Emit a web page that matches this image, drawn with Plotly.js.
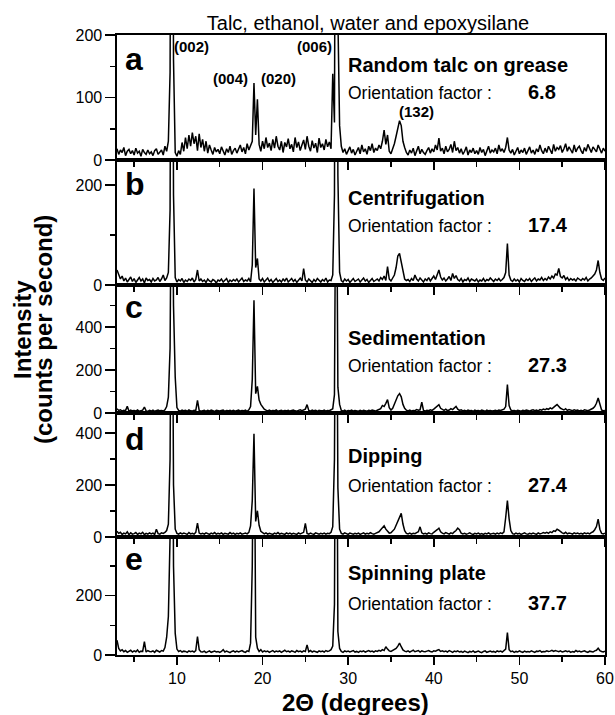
<!DOCTYPE html>
<html>
<head>
<meta charset="utf-8">
<script src="https://cdn.plot.ly/plotly-3.0.1.min.js"></script>
<style>html,body{margin:0;padding:0;background:#fff}#chart{width:615px;height:715px}</style>
</head>
<body>
<div id="chart"></div>
<script>
// 2-theta sampling of every pattern (degrees)
const twoThetaStart = 3.0;
const twoThetaStep = 0.2;

// Intensities (counts per second), one value every 0.2 degree from 3.0 to 60.0
const intensityA = [
 18, 9, 16, 12, 20, 7, 14, 17, 10, 15,
 8, 19, 11, 14, 6, 17, 12, 9, 16, 10,
 13, 7, 15, 18, 9, 12, 16, 8, 22, 14,
 30, 140, 950, 160, 12, 6, 15, 9, 28, 14,
 36, 18, 40, 22, 44, 26, 38, 15, 42, 20,
 33, 14, 30, 11, 24, 16, 9, 20, 13, 17,
 10, 21, 14, 8, 18, 12, 22, 9, 15, 19,
 11, 17, 24, 13, 20, 10, 26, 16, 22, 30,
 123, 40, 97, 25, 14, 30, 18, 36, 20, 27,
 15, 33, 19, 38, 22, 16, 30, 12, 28, 21,
 34, 18, 25, 13, 36, 20, 29, 15, 24, 32,
 17, 38, 22, 14, 31, 19, 27, 12, 35, 20,
 26, 16, 33, 21, 29, 18, 138, 60, 950, 230,
 55, 22, 12, 18, 9, 15, 21, 11, 17, 8,
 14, 20, 10, 24, 13, 18, 9, 22, 15, 26,
 12, 19, 15, 24, 18, 30, 48, 25, 40, 14,
 10, 18, 26, 38, 52, 63, 55, 30, 20, 12,
 8, 16, 11, 19, 7, 14, 22, 10, 17, 12,
 9, 15, 20, 11, 18, 13, 24, 16, 35, 14,
 19, 10, 22, 13, 17, 25, 12, 30, 15, 20,
 11, 18, 9, 14, 21, 8, 16, 12, 19, 10,
 15, 9, 20, 12, 17, 7, 14, 22, 11, 16,
 13, 19, 10, 24, 14, 18, 12, 20, 36, 16,
 11, 17, 8, 14, 20, 10, 16, 12, 19, 9,
 14, 21, 11, 16, 9, 18, 13, 24, 15, 10,
 19, 12, 22, 15, 10, 25, 14, 20, 17, 23,
 12, 18, 26, 14, 21, 16, 11, 24, 13, 19,
 22, 15, 10, 20, 14, 25, 17, 12, 21, 16,
 13, 24, 18, 11, 19, 14
];
const intensityB = [
 30, 22, 12, 18, 8, 14, 6, 11, 16, 7,
 13, 5, 10, 15, 8, 12, 4, 14, 9, 11,
 6, 13, 8, 10, 15, 7, 12, 20, 9, 14,
 25, 150, 1200, 180, 15, 6, 11, 8, 13, 5,
 10, 7, 12, 9, 14, 6, 11, 30, 8, 12,
 7, 10, 5, 12, 8, 6, 11, 9, 4, 10,
 8, 12, 6, 9, 13, 5, 10, 7, 11, 8,
 12, 6, 9, 14, 7, 10, 8, 13, 6, 40,
 193, 35, 53, 12, 8, 13, 6, 10, 14, 7,
 11, 5, 9, 13, 7, 10, 6, 12, 8, 14,
 6, 10, 13, 7, 11, 5, 9, 14, 8, 33,
 10, 6, 12, 8, 5, 11, 7, 13, 9, 6,
 11, 8, 14, 6, 10, 9, 20, 180, 1300, 220,
 25, 9, 6, 12, 8, 11, 5, 10, 13, 7,
 9, 12, 6, 10, 14, 8, 11, 5, 9, 13,
 7, 10, 12, 8, 15, 11, 18, 9, 37, 12,
 8, 14, 20, 35, 58, 63, 45, 22, 12, 9,
 11, 7, 13, 9, 20, 12, 8, 14, 10, 6,
 12, 9, 15, 8, 13, 18, 11, 22, 30, 16,
 10, 14, 8, 12, 17, 9, 23, 13, 19, 11,
 8, 13, 6, 11, 9, 14, 7, 12, 10, 8,
 12, 6, 10, 8, 13, 7, 11, 9, 14, 10,
 7, 12, 9, 13, 8, 11, 15, 25, 83, 20,
 10, 7, 12, 8, 11, 6, 13, 9, 7, 12,
 9, 13, 7, 11, 14, 8, 12, 10, 15, 9,
 13, 10, 16, 12, 18, 14, 22, 20, 33, 17,
 14, 19, 11, 15, 9, 13, 10, 12, 8, 14,
 11, 9, 13, 10, 15, 8, 12, 14, 18, 22,
 30, 49, 25, 12, 9, 14
];
const intensityC = [
 20, 12, 15, 9, 13, 11, 31, 8, 13, 10,
 12, 9, 14, 8, 11, 13, 28, 10, 7, 12,
 9, 13, 8, 11, 14, 10, 12, 9, 15, 30,
 74, 300, 1500, 500, 166, 25, 12, 9, 14, 10,
 12, 8, 14, 10, 9, 13, 11, 59, 12, 8,
 10, 13, 8, 12, 9, 14, 11, 7, 13, 10,
 9, 12, 14, 8, 11, 10, 13, 9, 12, 8,
 11, 14, 9, 12, 10, 13, 8, 15, 30, 155,
 524, 90, 124, 60, 40, 28, 18, 13, 10, 14,
 9, 12, 10, 14, 8, 11, 13, 9, 12, 10,
 13, 9, 11, 14, 10, 8, 12, 15, 11, 13,
 18, 39, 12, 9, 14, 10, 12, 8, 13, 11,
 10, 14, 9, 12, 11, 15, 20, 85, 1500, 120,
 40, 12, 9, 13, 8, 11, 10, 14, 9, 12,
 10, 8, 12, 9, 13, 11, 8, 12, 10, 14,
 11, 9, 13, 15, 20, 35, 30, 45, 62, 25,
 14, 22, 40, 65, 80, 90, 75, 40, 22, 13,
 10, 14, 9, 12, 11, 16, 13, 15, 50, 12,
 9, 13, 11, 15, 12, 18, 25, 30, 39, 22,
 15, 12, 18, 11, 14, 20, 16, 25, 31, 18,
 12, 15, 10, 13, 9, 14, 11, 12, 8, 13,
 10, 12, 9, 14, 11, 8, 13, 10, 12, 9,
 11, 13, 10, 14, 12, 15, 18, 30, 132, 35,
 14, 10, 12, 9, 13, 11, 8, 12, 10, 14,
 12, 9, 13, 15, 11, 14, 10, 16, 13, 18,
 15, 20, 17, 24, 19, 28, 33, 39, 30, 22,
 18, 14, 20, 12, 16, 13, 11, 15, 12, 14,
 10, 13, 9, 15, 12, 11, 14, 18, 22, 30,
 45, 70, 35, 14, 10, 12
];
const intensityD = [
 22, 14, 18, 10, 15, 12, 20, 9, 16, 11,
 13, 17, 10, 15, 12, 18, 9, 14, 11, 16,
 12, 15, 10, 30, 13, 11, 16, 14, 18, 25,
 49, 300, 1500, 200, 30, 14, 11, 16, 12, 15,
 13, 10, 17, 12, 14, 11, 18, 53, 15, 12,
 14, 11, 16, 13, 10, 15, 12, 17, 11, 14,
 12, 16, 10, 14, 13, 11, 17, 12, 15, 10,
 14, 12, 16, 11, 13, 15, 12, 18, 43, 140,
 397, 60, 101, 45, 22, 15, 12, 16, 11, 14,
 13, 10, 15, 12, 17, 11, 14, 13, 10, 16,
 12, 15, 11, 14, 13, 10, 16, 12, 15, 18,
 52, 14, 11, 15, 12, 10, 16, 13, 11, 14,
 12, 15, 11, 14, 13, 18, 40, 300, 1500, 190,
 30, 14, 11, 16, 12, 10, 15, 13, 11, 14,
 12, 15, 10, 13, 16, 11, 14, 12, 17, 13,
 11, 14, 16, 20, 28, 35, 43, 30, 22, 15,
 16, 22, 30, 45, 62, 75, 91, 50, 24, 14,
 12, 15, 11, 14, 13, 17, 20, 39, 16, 12,
 14, 11, 16, 13, 12, 18, 22, 28, 34, 20,
 15, 12, 17, 14, 11, 16, 13, 20, 25, 34,
 28, 15, 12, 14, 11, 13, 16, 12, 10, 14,
 12, 15, 11, 13, 10, 14, 12, 16, 11, 13,
 14, 11, 15, 12, 16, 13, 20, 75, 140, 70,
 25, 13, 11, 15, 12, 14, 10, 13, 16, 12,
 11, 14, 12, 15, 13, 10, 16, 12, 14, 17,
 15, 18, 14, 20, 17, 24, 22, 30, 26, 19,
 16, 13, 18, 12, 15, 14, 11, 16, 13, 15,
 12, 14, 11, 16, 13, 15, 12, 17, 20, 28,
 40, 69, 30, 14, 12, 15
];
const intensityE = [
 50, 22, 14, 18, 11, 15, 9, 13, 16, 10,
 14, 11, 17, 9, 13, 12, 45, 10, 15, 12,
 11, 14, 9, 16, 12, 10, 15, 13, 25, 60,
 130, 400, 1500, 300, 73, 20, 12, 15, 10, 13,
 12, 9, 14, 11, 13, 10, 15, 62, 18, 11,
 10, 13, 8, 12, 14, 9, 11, 13, 10, 12,
 9, 12, 18, 10, 13, 11, 8, 12, 14, 10,
 13, 10, 12, 15, 11, 9, 14, 12, 40, 300,
 1000, 60, 23, 12, 18, 10, 14, 11, 13, 9,
 12, 15, 10, 13, 11, 14, 9, 12, 16, 11,
 13, 10, 14, 12, 9, 15, 11, 13, 10, 14,
 12, 34, 11, 15, 10, 13, 12, 9, 14, 11,
 13, 10, 15, 12, 14, 18, 30, 170, 1500, 79,
 22, 12, 9, 14, 11, 13, 10, 12, 15, 10,
 12, 9, 13, 11, 14, 10, 12, 15, 11, 13,
 10, 14, 12, 16, 13, 18, 15, 28, 20, 14,
 12, 15, 18, 22, 30, 40, 28, 17, 13, 11,
 14, 10, 13, 16, 11, 12, 15, 10, 14, 12,
 11, 13, 15, 12, 10, 14, 13, 16, 18, 12,
 14, 11, 13, 10, 15, 12, 9, 13, 11, 14,
 10, 12, 9, 13, 11, 8, 12, 10, 14, 9,
 11, 13, 10, 8, 12, 14, 9, 11, 13, 10,
 12, 9, 14, 11, 13, 10, 15, 20, 76, 18,
 11, 13, 9, 12, 10, 14, 11, 9, 13, 10,
 12, 10, 14, 11, 9, 13, 12, 15, 10, 12,
 11, 14, 12, 13, 16, 12, 15, 13, 11, 14,
 10, 12, 14, 11, 13, 9, 12, 10, 15, 11,
 13, 10, 12, 14, 11, 9, 13, 12, 10, 14,
 16, 23, 15, 12, 10, 13
];

const panelLetters = ['a', 'b', 'c', 'd', 'e'];
const methodNames = ['Random talc on grease', 'Centrifugation', 'Sedimentation', 'Dipping', 'Spinning plate'];
const orientationFactors = ['6.8', '17.4', '27.3', '27.4', '37.7'];
const peakLabels = ['(002)', '(004)', '(020)', '(006)', '(132)'];
const yAxisMax = [200, 250, 595, 477, 398];
const yMajorStep = [100, 200, 200, 200, 200];
const yMinorStep = [50, 100, 100, 100, 100];
const xRange = [3, 60];
const chartTitle = 'Talc, ethanol, water and epoxysilane';
const xTitle = '2\u0398 (degrees)';
const yTitleLines = ['Intensity', '(counts per second)'];

const series = [intensityA, intensityB, intensityC, intensityD, intensityE];

// ---------- layout geometry (pixels) ----------
const W = 615, H = 715;
const L = 117, R = 605, T = 35, B = 655;
const edges = [35, 160, 285, 413, 537, 655];
const FONT = 'Liberation Sans, Arial, Helvetica, sans-serif';
const px = x => (x - L) / (R - L);
const py = y => (B - y) / (B - T);

function txt(text, x, baseline, size, bold, xanchor) {
  return {
    xref: 'paper', yref: 'paper',
    x: px(x), y: py(baseline - 0.35 * size),
    xanchor: xanchor || 'left', yanchor: 'middle',
    text: bold ? '<b>' + text + '</b>' : text,
    showarrow: false, borderpad: 0,
    font: {family: FONT, size: size, color: '#000'}
  };
}

const traces = [];
const layout = {
  width: W, height: H,
  margin: {l: L, r: W - R, t: T, b: H - B, pad: 0},
  paper_bgcolor: '#fff', plot_bgcolor: '#fff',
  showlegend: false,
  title: {
    text: chartTitle,
    font: {family: FONT, size: 20, color: '#000'},
    x: 368 / W, xanchor: 'center', y: 1 - 23 / H, yanchor: 'middle'
  },
  annotations: []
};

for (let i = 0; i < 5; i++) {
  const s = i === 0 ? '' : String(i + 1);
  traces.push({
    type: 'scatter', mode: 'lines',
    x0: twoThetaStart, dx: twoThetaStep, y: series[i],
    xaxis: 'x' + s, yaxis: 'y' + s,
    line: {color: '#000', width: 1.5},
    hoverinfo: 'skip'
  });
  const top = edges[i], bottom = edges[i + 1];
  layout['xaxis' + s] = {
    domain: [0, 1], range: xRange, anchor: 'y' + s,
    showline: true, mirror: true, linecolor: '#000', linewidth: 1.6,
    ticks: 'outside', ticklen: 8, tickwidth: 1.5, tickcolor: '#000',
    tick0: 0, dtick: 10,
    minor: {dtick: 5, ticks: 'outside', ticklen: 5, tickwidth: 1.5, tickcolor: '#000', showgrid: false},
    showgrid: false, zeroline: false,
    showticklabels: i === 4,
    tickfont: {family: FONT, size: 16, color: '#000'},
    fixedrange: true
  };
  if (i > 0) layout['xaxis' + s].matches = 'x';
  layout['yaxis' + s] = {
    domain: [py(bottom), py(top)], range: [0, yAxisMax[i]], anchor: 'x' + s,
    showline: true, mirror: true, linecolor: '#000', linewidth: 1.6,
    ticks: 'outside', ticklen: 10, tickwidth: 1.5, tickcolor: '#000',
    tick0: 0, dtick: yMajorStep[i],
    minor: {dtick: yMinorStep[i], ticks: 'outside', ticklen: 5, tickwidth: 1.5, tickcolor: '#000', showgrid: false},
    showgrid: false, zeroline: false,
    tickfont: {family: FONT, size: 16, color: '#000'},
    fixedrange: true
  };
}

// panel texts
const letterBase = [70, 195, 318, 450, 570];
const methodBase = [72, 205, 345, 463, 580];
const factorBase = [99, 232, 372, 492, 610];
for (let i = 0; i < 5; i++) {
  layout.annotations.push(txt(panelLetters[i], 124, letterBase[i], 32, true, 'left'));
  layout.annotations.push(txt(methodNames[i], 347, methodBase[i], 20, true, 'left'));
  layout.annotations.push(txt('Orientation factor :', 347, factorBase[i], 17.5, false, 'left'));
  layout.annotations.push(txt(orientationFactors[i], 527, factorBase[i], 20, true, 'left'));
}
// peak labels of panel a
layout.annotations.push(txt(peakLabels[0], 173, 52, 15, true, 'left'));
layout.annotations.push(txt(peakLabels[1], 212, 84, 15, true, 'left'));
layout.annotations.push(txt(peakLabels[2], 260, 84, 15, true, 'left'));
layout.annotations.push(txt(peakLabels[3], 333, 52, 15, true, 'right'));
layout.annotations.push(txt(peakLabels[4], 398, 117, 15, true, 'left'));

// axis titles
layout.annotations.push(txt(xTitle, 355, 711, 24, true, 'center'));
[[yTitleLines[0], 22], [yTitleLines[1], 43]].forEach(([t, cx]) => {
  layout.annotations.push({
    xref: 'paper', yref: 'paper', x: px(cx), y: py(330),
    xanchor: 'center', yanchor: 'middle', textangle: -90,
    text: '<b>' + t + '</b>', showarrow: false, borderpad: 0,
    font: {family: FONT, size: 24, color: '#000'}
  });
});

Plotly.newPlot('chart', traces, layout, {staticPlot: true, displayModeBar: false});
</script>
</body>
</html>
